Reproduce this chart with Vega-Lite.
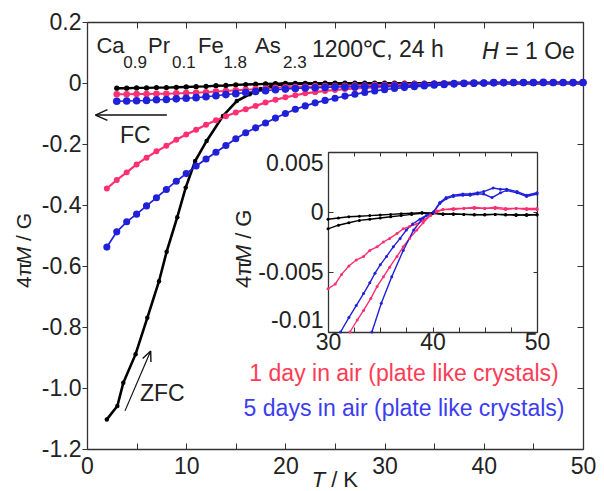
{
  "$schema": "https://vega.github.io/schema/vega-lite/v6.json",
  "width": 496,
  "height": 427,
  "autosize": {"type": "none"},
  "padding": {"left": 87, "top": 22, "right": 21, "bottom": 42},
  "config": {
    "font": "Liberation Sans",
    "view": {"stroke": null},
    "axis": {
      "grid": false,
      "labelFlush": false,
      "domainColor": "#333",
      "domainWidth": 1.3,
      "tickColor": "#333",
      "tickWidth": 1,
      "labelFont": "Liberation Sans",
      "labelFontSize": 23,
      "labelColor": "#222",
      "title": null
    }
  },
  "datasets": {
    "main": [
      {"s":"bZ","T":2,"M":-1.103},{"s":"bZ","T":3.06,"M":-1.059},{"s":"bZ","T":3.66,"M":-0.983},{"s":"bZ","T":4.9,"M":-0.889},{"s":"bZ","T":6.08,"M":-0.77},{"s":"bZ","T":7.26,"M":-0.65},{"s":"bZ","T":8.03,"M":-0.553},{"s":"bZ","T":9.1,"M":-0.44},{"s":"bZ","T":9.95,"M":-0.343},{"s":"bZ","T":10.9,"M":-0.256},{"s":"bZ","T":12.06,"M":-0.19},{"s":"bZ","T":13.7,"M":-0.108},{"s":"bZ","T":15.1,"M":-0.059},{"s":"bZ","T":16.4,"M":-0.037},{"s":"bZ","T":17.5,"M":-0.02},{"s":"bZ","T":18.6,"M":-0.01},{"s":"bZ","T":19.7,"M":-0.005},{"s":"bZ","T":21,"M":-0.003},{"s":"bZ","T":23,"M":-0.0023},{"s":"bZ","T":25,"M":-0.0019},{"s":"bZ","T":27,"M":-0.0017},{"s":"bZ","T":29,"M":-0.0015},{"s":"bZ","T":31,"M":-0.0011},{"s":"bZ","T":33,"M":-0.0008},{"s":"bZ","T":35,"M":-0.0006},{"s":"bZ","T":37,"M":-0.0004},{"s":"bZ","T":39,"M":-0.0002},{"s":"bZ","T":41,"M":-0.0003},{"s":"bZ","T":43,"M":-0.0003},{"s":"bZ","T":45,"M":-0.0003},{"s":"bZ","T":47,"M":-0.0003},{"s":"bZ","T":49,"M":-0.0003},{"s":"bZ","T":50,"M":-0.0003},

      {"s":"bF","T":3,"M":-0.017},{"s":"bF","T":4,"M":-0.017},{"s":"bF","T":5,"M":-0.016},{"s":"bF","T":6,"M":-0.016},{"s":"bF","T":7,"M":-0.015},{"s":"bF","T":8,"M":-0.015},{"s":"bF","T":9,"M":-0.014},{"s":"bF","T":10,"M":-0.013},{"s":"bF","T":11,"M":-0.012},{"s":"bF","T":12,"M":-0.011},{"s":"bF","T":13,"M":-0.009},{"s":"bF","T":14,"M":-0.008},{"s":"bF","T":15,"M":-0.006},{"s":"bF","T":16,"M":-0.005},{"s":"bF","T":17,"M":-0.004},{"s":"bF","T":18,"M":-0.003},{"s":"bF","T":19,"M":-0.002},{"s":"bF","T":20,"M":-0.0015},{"s":"bF","T":21,"M":-0.0012},{"s":"bF","T":22,"M":-0.001},{"s":"bF","T":23,"M":-0.0009},{"s":"bF","T":24,"M":-0.0008},{"s":"bF","T":25,"M":-0.0008},{"s":"bF","T":26,"M":-0.0007},{"s":"bF","T":27,"M":-0.0007},{"s":"bF","T":28,"M":-0.0006},{"s":"bF","T":29,"M":-0.0006},{"s":"bF","T":30,"M":-0.0006},{"s":"bF","T":31,"M":-0.0005},{"s":"bF","T":32,"M":-0.0004},{"s":"bF","T":33,"M":-0.0004},{"s":"bF","T":34,"M":-0.0003},{"s":"bF","T":35,"M":-0.0003},{"s":"bF","T":36,"M":-0.0002},{"s":"bF","T":37,"M":-0.0002},{"s":"bF","T":38,"M":-0.0001},{"s":"bF","T":39,"M":-0.0001},{"s":"bF","T":40,"M":-0.0001},{"s":"bF","T":41,"M":-0.0002},{"s":"bF","T":42,"M":-0.0002},{"s":"bF","T":43,"M":-0.0002},{"s":"bF","T":44,"M":-0.0002},{"s":"bF","T":45,"M":-0.0002},{"s":"bF","T":46,"M":-0.0002},{"s":"bF","T":47,"M":-0.0002},{"s":"bF","T":48,"M":-0.0002},{"s":"bF","T":49,"M":-0.0002},{"s":"bF","T":50,"M":-0.0002},

      {"s":"rZ","T":2,"M":-0.346},{"s":"rZ","T":3,"M":-0.318},{"s":"rZ","T":4,"M":-0.293},{"s":"rZ","T":5,"M":-0.267},{"s":"rZ","T":6,"M":-0.245},{"s":"rZ","T":7,"M":-0.224},{"s":"rZ","T":8,"M":-0.206},{"s":"rZ","T":9,"M":-0.186},{"s":"rZ","T":10,"M":-0.169},{"s":"rZ","T":11,"M":-0.153},{"s":"rZ","T":12,"M":-0.137},{"s":"rZ","T":13,"M":-0.122},{"s":"rZ","T":14,"M":-0.109},{"s":"rZ","T":15,"M":-0.097},{"s":"rZ","T":16,"M":-0.086},{"s":"rZ","T":17,"M":-0.075},{"s":"rZ","T":18,"M":-0.064},{"s":"rZ","T":19,"M":-0.055},{"s":"rZ","T":20,"M":-0.047},{"s":"rZ","T":21,"M":-0.04},{"s":"rZ","T":22,"M":-0.034},{"s":"rZ","T":23,"M":-0.03},{"s":"rZ","T":24,"M":-0.026},{"s":"rZ","T":25,"M":-0.023},{"s":"rZ","T":26,"M":-0.02},{"s":"rZ","T":27,"M":-0.018},{"s":"rZ","T":28,"M":-0.016},{"s":"rZ","T":29,"M":-0.0145},{"s":"rZ","T":30,"M":-0.013},{"s":"rZ","T":31,"M":-0.0115},{"s":"rZ","T":32,"M":-0.0101},{"s":"rZ","T":33,"M":-0.0086},{"s":"rZ","T":34,"M":-0.0068},{"s":"rZ","T":35,"M":-0.0054},{"s":"rZ","T":36,"M":-0.0042},{"s":"rZ","T":37,"M":-0.0031},{"s":"rZ","T":38,"M":-0.0018},{"s":"rZ","T":39,"M":-0.0008},{"s":"rZ","T":40,"M":-0.0001},{"s":"rZ","T":41,"M":0.0002},{"s":"rZ","T":42,"M":0.0002},{"s":"rZ","T":43,"M":0.0003},{"s":"rZ","T":44,"M":0.0003},{"s":"rZ","T":45,"M":0.0003},{"s":"rZ","T":46,"M":0.0003},{"s":"rZ","T":47,"M":0.0003},{"s":"rZ","T":48,"M":0.0003},{"s":"rZ","T":49,"M":0.0003},{"s":"rZ","T":50,"M":0.0003},

      {"s":"rF","T":3,"M":-0.037},{"s":"rF","T":4,"M":-0.037},{"s":"rF","T":5,"M":-0.036},{"s":"rF","T":6,"M":-0.036},{"s":"rF","T":7,"M":-0.035},{"s":"rF","T":8,"M":-0.035},{"s":"rF","T":9,"M":-0.034},{"s":"rF","T":10,"M":-0.033},{"s":"rF","T":11,"M":-0.032},{"s":"rF","T":12,"M":-0.03},{"s":"rF","T":13,"M":-0.028},{"s":"rF","T":14,"M":-0.026},{"s":"rF","T":15,"M":-0.024},{"s":"rF","T":16,"M":-0.022},{"s":"rF","T":17,"M":-0.02},{"s":"rF","T":18,"M":-0.018},{"s":"rF","T":19,"M":-0.016},{"s":"rF","T":20,"M":-0.014},{"s":"rF","T":21,"M":-0.013},{"s":"rF","T":22,"M":-0.012},{"s":"rF","T":23,"M":-0.011},{"s":"rF","T":24,"M":-0.01},{"s":"rF","T":25,"M":-0.0095},{"s":"rF","T":26,"M":-0.009},{"s":"rF","T":27,"M":-0.0085},{"s":"rF","T":28,"M":-0.008},{"s":"rF","T":29,"M":-0.007},{"s":"rF","T":30,"M":-0.0063},{"s":"rF","T":31,"M":-0.0057},{"s":"rF","T":32,"M":-0.0046},{"s":"rF","T":33,"M":-0.0039},{"s":"rF","T":34,"M":-0.0033},{"s":"rF","T":35,"M":-0.0026},{"s":"rF","T":36,"M":-0.0021},{"s":"rF","T":37,"M":-0.0014},{"s":"rF","T":38,"M":-0.0011},{"s":"rF","T":39,"M":-0.0007},{"s":"rF","T":40,"M":-0.0002},{"s":"rF","T":41,"M":0.0001},{"s":"rF","T":42,"M":0.0002},{"s":"rF","T":43,"M":0.0002},{"s":"rF","T":44,"M":0.0003},{"s":"rF","T":45,"M":0.0003},{"s":"rF","T":46,"M":0.0003},{"s":"rF","T":47,"M":0.0002},{"s":"rF","T":48,"M":0.0003},{"s":"rF","T":49,"M":0.0002},{"s":"rF","T":50,"M":0.0002},

      {"s":"uZ","T":2,"M":-0.538},{"s":"uZ","T":3,"M":-0.488},{"s":"uZ","T":4,"M":-0.455},{"s":"uZ","T":5,"M":-0.43},{"s":"uZ","T":6,"M":-0.403},{"s":"uZ","T":7,"M":-0.376},{"s":"uZ","T":8,"M":-0.349},{"s":"uZ","T":9,"M":-0.322},{"s":"uZ","T":10,"M":-0.297},{"s":"uZ","T":11,"M":-0.272},{"s":"uZ","T":12,"M":-0.249},{"s":"uZ","T":13,"M":-0.227},{"s":"uZ","T":14,"M":-0.205},{"s":"uZ","T":15,"M":-0.183},{"s":"uZ","T":16,"M":-0.163},{"s":"uZ","T":17,"M":-0.147},{"s":"uZ","T":18,"M":-0.131},{"s":"uZ","T":19,"M":-0.115},{"s":"uZ","T":20,"M":-0.1},{"s":"uZ","T":21,"M":-0.086},{"s":"uZ","T":22,"M":-0.075},{"s":"uZ","T":23,"M":-0.065},{"s":"uZ","T":24,"M":-0.057},{"s":"uZ","T":25,"M":-0.05},{"s":"uZ","T":26,"M":-0.043},{"s":"uZ","T":27,"M":-0.037},{"s":"uZ","T":28,"M":-0.031},{"s":"uZ","T":29,"M":-0.026},{"s":"uZ","T":30,"M":-0.022},{"s":"uZ","T":31,"M":-0.018},{"s":"uZ","T":32,"M":-0.015},{"s":"uZ","T":33,"M":-0.012},{"s":"uZ","T":34,"M":-0.01},{"s":"uZ","T":35,"M":-0.0076},{"s":"uZ","T":36,"M":-0.0054},{"s":"uZ","T":37,"M":-0.0036},{"s":"uZ","T":38,"M":-0.0018},{"s":"uZ","T":39,"M":-0.0006},{"s":"uZ","T":40,"M":0},{"s":"uZ","T":41,"M":0.0011},{"s":"uZ","T":42,"M":0.0013},{"s":"uZ","T":43,"M":0.0014},{"s":"uZ","T":44,"M":0.0015},{"s":"uZ","T":45,"M":0.0013},{"s":"uZ","T":46,"M":0.0016},{"s":"uZ","T":47,"M":0.0018},{"s":"uZ","T":48,"M":0.0016},{"s":"uZ","T":49,"M":0.0013},{"s":"uZ","T":50,"M":0.0015},

      {"s":"uF","T":3,"M":-0.06},{"s":"uF","T":4,"M":-0.059},{"s":"uF","T":5,"M":-0.058},{"s":"uF","T":6,"M":-0.057},{"s":"uF","T":7,"M":-0.055},{"s":"uF","T":8,"M":-0.054},{"s":"uF","T":9,"M":-0.052},{"s":"uF","T":10,"M":-0.05},{"s":"uF","T":11,"M":-0.048},{"s":"uF","T":12,"M":-0.045},{"s":"uF","T":13,"M":-0.042},{"s":"uF","T":14,"M":-0.038},{"s":"uF","T":15,"M":-0.035},{"s":"uF","T":16,"M":-0.031},{"s":"uF","T":17,"M":-0.028},{"s":"uF","T":18,"M":-0.025},{"s":"uF","T":19,"M":-0.022},{"s":"uF","T":20,"M":-0.02},{"s":"uF","T":21,"M":-0.018},{"s":"uF","T":22,"M":-0.0165},{"s":"uF","T":23,"M":-0.0155},{"s":"uF","T":24,"M":-0.0145},{"s":"uF","T":25,"M":-0.0135},{"s":"uF","T":26,"M":-0.013},{"s":"uF","T":27,"M":-0.0125},{"s":"uF","T":28,"M":-0.012},{"s":"uF","T":29,"M":-0.0115},{"s":"uF","T":30,"M":-0.011},{"s":"uF","T":31,"M":-0.0102},{"s":"uF","T":32,"M":-0.0088},{"s":"uF","T":33,"M":-0.0073},{"s":"uF","T":34,"M":-0.0059},{"s":"uF","T":35,"M":-0.0045},{"s":"uF","T":36,"M":-0.0032},{"s":"uF","T":37,"M":-0.002},{"s":"uF","T":38,"M":-0.0011},{"s":"uF","T":39,"M":-0.0005},{"s":"uF","T":40,"M":0},{"s":"uF","T":41,"M":0.0012},{"s":"uF","T":42,"M":0.0014},{"s":"uF","T":43,"M":0.0015},{"s":"uF","T":44,"M":0.0016},{"s":"uF","T":45,"M":0.0018},{"s":"uF","T":46,"M":0.002},{"s":"uF","T":47,"M":0.0018},{"s":"uF","T":48,"M":0.0017},{"s":"uF","T":49,"M":0.0014},{"s":"uF","T":50,"M":0.0015}
    ],
    "inset": [
      {"s":"bF","T":30,"M":-0.0006},{"s":"bF","T":31,"M":-0.0005},{"s":"bF","T":32,"M":-0.0004},{"s":"bF","T":33,"M":-0.00035},{"s":"bF","T":34,"M":-0.0003},{"s":"bF","T":35,"M":-0.00025},{"s":"bF","T":36,"M":-0.0002},{"s":"bF","T":37,"M":-0.00015},{"s":"bF","T":38,"M":-0.0001},{"s":"bF","T":39,"M":-0.00005},{"s":"bF","T":40,"M":-0.0001},{"s":"bF","T":41,"M":-0.0002},{"s":"bF","T":42,"M":-0.00015},{"s":"bF","T":43,"M":-0.0002},{"s":"bF","T":44,"M":-0.00025},{"s":"bF","T":45,"M":-0.0002},{"s":"bF","T":46,"M":-0.0002},{"s":"bF","T":47,"M":-0.00025},{"s":"bF","T":48,"M":-0.0002},{"s":"bF","T":49,"M":-0.0003},{"s":"bF","T":50,"M":-0.0002},
      {"s":"bZ","T":30,"M":-0.0014},{"s":"bZ","T":31,"M":-0.0011},{"s":"bZ","T":32,"M":-0.0009},{"s":"bZ","T":33,"M":-0.0007},{"s":"bZ","T":34,"M":-0.0006},{"s":"bZ","T":35,"M":-0.0005},{"s":"bZ","T":36,"M":-0.0004},{"s":"bZ","T":37,"M":-0.0003},{"s":"bZ","T":38,"M":-0.0002},{"s":"bZ","T":39,"M":-0.0001},{"s":"bZ","T":40,"M":-0.0001},{"s":"bZ","T":41,"M":-0.00015},{"s":"bZ","T":42,"M":-0.0002},{"s":"bZ","T":43,"M":-0.0002},{"s":"bZ","T":44,"M":-0.0002},{"s":"bZ","T":45,"M":-0.00025},{"s":"bZ","T":46,"M":-0.0002},{"s":"bZ","T":47,"M":-0.0002},{"s":"bZ","T":48,"M":-0.0003},{"s":"bZ","T":49,"M":-0.0002},{"s":"bZ","T":50,"M":-0.00025},
      {"s":"rF","T":30,"M":-0.0064},{"s":"rF","T":30.7,"M":-0.006},{"s":"rF","T":31.3,"M":-0.0052},{"s":"rF","T":32,"M":-0.0045},{"s":"rF","T":32.7,"M":-0.004},{"s":"rF","T":33.4,"M":-0.0037},{"s":"rF","T":34,"M":-0.0032},{"s":"rF","T":34.7,"M":-0.0029},{"s":"rF","T":35.3,"M":-0.0025},{"s":"rF","T":35.9,"M":-0.0022},{"s":"rF","T":36.6,"M":-0.0018},{"s":"rF","T":37.2,"M":-0.0014},{"s":"rF","T":37.8,"M":-0.0012},{"s":"rF","T":38.5,"M":-0.001},{"s":"rF","T":39.1,"M":-0.0007},{"s":"rF","T":39.8,"M":-0.0003},{"s":"rF","T":40.4,"M":0},{"s":"rF","T":41,"M":0.0002},{"s":"rF","T":42,"M":0.0002},{"s":"rF","T":43,"M":0.0003},{"s":"rF","T":44,"M":0.0003},{"s":"rF","T":45,"M":0.0003},{"s":"rF","T":46,"M":0.0003},{"s":"rF","T":47,"M":0.0002},{"s":"rF","T":48,"M":0.0003},{"s":"rF","T":49,"M":0.0002},{"s":"rF","T":50,"M":0.0002},
      {"s":"rZ","T":32.1,"M":-0.01},{"s":"rZ","T":32.8,"M":-0.009},{"s":"rZ","T":33.4,"M":-0.0082},{"s":"rZ","T":34.1,"M":-0.0072},{"s":"rZ","T":34.7,"M":-0.0062},{"s":"rZ","T":35.3,"M":-0.0054},{"s":"rZ","T":35.9,"M":-0.0046},{"s":"rZ","T":36.6,"M":-0.0037},{"s":"rZ","T":37.2,"M":-0.0029},{"s":"rZ","T":37.8,"M":-0.0022},{"s":"rZ","T":38.5,"M":-0.0015},{"s":"rZ","T":39.1,"M":-0.0009},{"s":"rZ","T":39.8,"M":-0.0003},{"s":"rZ","T":40.4,"M":0.0001},{"s":"rZ","T":41,"M":0.0002},{"s":"rZ","T":42,"M":0.0003},{"s":"rZ","T":43,"M":0.0003},{"s":"rZ","T":44,"M":0.0004},{"s":"rZ","T":45,"M":0.0003},{"s":"rZ","T":46,"M":0.0004},{"s":"rZ","T":47,"M":0.0003},{"s":"rZ","T":48,"M":0.0003},{"s":"rZ","T":49,"M":0.0003},{"s":"rZ","T":50,"M":0.0003},
      {"s":"uF","T":31.2,"M":-0.01},{"s":"uF","T":32,"M":-0.0088},{"s":"uF","T":32.7,"M":-0.0078},{"s":"uF","T":33.4,"M":-0.0068},{"s":"uF","T":34,"M":-0.0059},{"s":"uF","T":34.5,"M":-0.0051},{"s":"uF","T":35,"M":-0.0044},{"s":"uF","T":35.6,"M":-0.0037},{"s":"uF","T":36.25,"M":-0.0029},{"s":"uF","T":36.9,"M":-0.0022},{"s":"uF","T":37.5,"M":-0.0015},{"s":"uF","T":38.1,"M":-0.001},{"s":"uF","T":38.8,"M":-0.0006},{"s":"uF","T":39.4,"M":-0.0003},{"s":"uF","T":40.1,"M":0},{"s":"uF","T":40.7,"M":0.0008},{"s":"uF","T":41.3,"M":0.0012},{"s":"uF","T":42,"M":0.0014},{"s":"uF","T":42.9,"M":0.0015},{"s":"uF","T":43.6,"M":0.0015},{"s":"uF","T":44.3,"M":0.0016},{"s":"uF","T":44.9,"M":0.0017},{"s":"uF","T":45.8,"M":0.002},{"s":"uF","T":46.5,"M":0.0019},{"s":"uF","T":47.1,"M":0.0019},{"s":"uF","T":48.1,"M":0.0017},{"s":"uF","T":49,"M":0.0014},{"s":"uF","T":50,"M":0.0016},
      {"s":"uZ","T":34.2,"M":-0.01},{"s":"uZ","T":35.1,"M":-0.0076},{"s":"uZ","T":36.1,"M":-0.0054},{"s":"uZ","T":37.2,"M":-0.0032},{"s":"uZ","T":38.2,"M":-0.0015},{"s":"uZ","T":39.1,"M":-0.0005},{"s":"uZ","T":40.1,"M":0},{"s":"uZ","T":40.7,"M":0.0007},{"s":"uZ","T":41.3,"M":0.0011},{"s":"uZ","T":42,"M":0.0013},{"s":"uZ","T":42.9,"M":0.0014},{"s":"uZ","T":43.6,"M":0.0014},{"s":"uZ","T":44.3,"M":0.0015},{"s":"uZ","T":44.9,"M":0.0015},{"s":"uZ","T":45.7,"M":0.0012},{"s":"uZ","T":46.5,"M":0.0016},{"s":"uZ","T":47.1,"M":0.0018},{"s":"uZ","T":48.1,"M":0.0016},{"s":"uZ","T":49,"M":0.0013},{"s":"uZ","T":50,"M":0.0015}
    ]
  },
  "layer": [
    {
      "data": {"name": "main"},
      "mark": {"type": "line"},
      "encoding": {
        "x": {"field": "T", "type": "quantitative", "scale": {"domain": [0, 50], "nice": false, "zero": false},
          "axis": {"orient": "bottom", "values": [0, 5, 10, 15, 20, 25, 30, 35, 40, 45, 50], "labelExpr": "datum.value % 10 === 0 ? toString(datum.value) : ''", "tickSize": -6, "labelPadding": 12}},
        "y": {"field": "M", "type": "quantitative", "scale": {"domain": [-1.2, 0.2], "nice": false, "zero": false},
          "axis": {"orient": "left", "values": [0.2, 0, -0.2, -0.4, -0.6, -0.8, -1, -1.2], "labelExpr": "datum.value === 0 ? '0' : replace(format(datum.value, '.1f'), '\u2212', '-')", "tickSize": 5, "labelPadding": 1}},
        "color": {"field": "s", "type": "nominal", "legend": null,
          "scale": {"domain": ["bZ", "bF", "rZ", "rF", "uZ", "uF"], "range": ["#000000", "#000000", "#ff2f72", "#ff2f72", "#2020d8", "#2020d8"]}},
        "strokeWidth": {"field": "s", "type": "nominal", "legend": null,
          "scale": {"domain": ["bZ", "bF", "rZ", "rF", "uZ", "uF"], "range": [2.6, 1.5, 1.5, 1.5, 1.5, 1.5]}}
      }
    },
    {
      "data": {"name": "main"},
      "mark": {"type": "point", "filled": true, "opacity": 1},
      "encoding": {
        "x": {"field": "T", "type": "quantitative", "scale": {"domain": [0, 50], "nice": false, "zero": false},
          "axis": {"orient": "top", "values": [0, 5, 10, 15, 20, 25, 30, 35, 40, 45, 50], "labels": false, "tickSize": -6}},
        "y": {"field": "M", "type": "quantitative", "scale": {"domain": [-1.2, 0.2], "nice": false, "zero": false},
          "axis": {"orient": "right", "values": [0.2, 0, -0.2, -0.4, -0.6, -0.8, -1, -1.2], "labels": false, "tickSize": -6}},
        "color": {"field": "s", "type": "nominal", "legend": null,
          "scale": {"domain": ["bZ", "bF", "rZ", "rF", "uZ", "uF"], "range": ["#000000", "#000000", "#ff2f72", "#ff2f72", "#2020d8", "#2020d8"]}},
        "size": {"field": "s", "type": "nominal", "legend": null,
          "scale": {"domain": ["bZ", "bF", "rZ", "rF", "uZ", "uF"], "range": [20, 58, 58, 58, 58, 58]}}
      }
    },
    {
      "data": {"name": "inset"},
      "mark": {"type": "line", "strokeWidth": 1.4},
      "encoding": {
        "x": {"field": "T", "type": "quantitative", "scale": {"domain": [30, 50], "range": [241, 450], "nice": false, "zero": false},
          "axis": {"orient": "bottom", "offset": -117, "values": [30, 32.5, 35, 37.5, 40, 42.5, 45, 47.5, 50], "labelExpr": "datum.value % 10 === 0 ? toString(datum.value) : ''", "tickSize": -5, "labelPadding": 4}},
        "y": {"field": "M", "type": "quantitative", "scale": {"domain": [-0.01, 0.005], "range": [310, 130], "nice": false, "zero": false},
          "axis": {"orient": "left", "offset": -241, "values": [0.005, 0, -0.005, -0.01], "labelExpr": "toString(datum.value)", "labelFlush": true, "tickSize": -5, "labelPadding": 10}},
        "color": {"field": "s", "type": "nominal", "legend": null,
          "scale": {"domain": ["bZ", "bF", "rZ", "rF", "uZ", "uF"], "range": ["#000000", "#000000", "#ff2f72", "#ff2f72", "#2020d8", "#2020d8"]}}
      }
    },
    {
      "data": {"name": "inset"},
      "mark": {"type": "point", "filled": true, "opacity": 1, "size": 9},
      "encoding": {
        "x": {"field": "T", "type": "quantitative", "scale": {"domain": [30, 50], "range": [241, 450], "nice": false, "zero": false},
          "axis": {"orient": "top", "offset": -130, "values": [30, 32.5, 35, 37.5, 40, 42.5, 45, 47.5, 50], "labels": false, "tickSize": -4}},
        "y": {"field": "M", "type": "quantitative", "scale": {"domain": [-0.01, 0.005], "range": [310, 130], "nice": false, "zero": false},
          "axis": {"orient": "right", "offset": -46, "values": [0.005, 0, -0.005, -0.01], "labels": false, "tickSize": -4}},
        "color": {"field": "s", "type": "nominal", "legend": null,
          "scale": {"domain": ["bZ", "bF", "rZ", "rF", "uZ", "uF"], "range": ["#000000", "#000000", "#ff2f72", "#ff2f72", "#2020d8", "#2020d8"]}}
      }
    },
    {
      "data": {"values": [{}]},
      "mark": {"type": "rule", "stroke": "#111", "strokeWidth": 1.4},
      "encoding": {
        "x": {"datum": 0.85, "type": "quantitative", "scale": {"domain": [0, 50], "nice": false, "zero": false}, "axis": null},
        "x2": {"datum": 8.05},
        "y": {"datum": -0.105, "type": "quantitative", "scale": {"domain": [-1.2, 0.2], "nice": false, "zero": false}, "axis": null}
      }
    },
    {
      "data": {"values": [{}]},
      "mark": {"type": "point", "shape": "M0,0L2,-0.9M0,0L2,0.9", "filled": false, "stroke": "#111", "strokeWidth": 1.4, "size": 144, "opacity": 1},
      "encoding": {
        "x": {"datum": 0.85, "type": "quantitative", "scale": {"domain": [0, 50], "nice": false, "zero": false}, "axis": null},
        "y": {"datum": -0.105, "type": "quantitative", "scale": {"domain": [-1.2, 0.2], "nice": false, "zero": false}, "axis": null}
      }
    },
    {
      "data": {"values": [{}]},
      "mark": {"type": "rule", "stroke": "#111", "strokeWidth": 1.2},
      "encoding": {
        "x": {"datum": 3.83, "type": "quantitative", "scale": {"domain": [0, 50], "nice": false, "zero": false}, "axis": null},
        "x2": {"datum": 6.42},
        "y": {"datum": -1.075, "type": "quantitative", "scale": {"domain": [-1.2, 0.2], "nice": false, "zero": false}, "axis": null},
        "y2": {"datum": -0.879}
      }
    },
    {
      "data": {"values": [{}]},
      "mark": {"type": "point", "shape": "M0,0L2,-0.9M0,0L2,0.9", "filled": false, "stroke": "#111", "strokeWidth": 1.4, "size": 100, "angle": 113, "opacity": 1},
      "encoding": {
        "x": {"datum": 6.42, "type": "quantitative", "scale": {"domain": [0, 50], "nice": false, "zero": false}, "axis": null},
        "y": {"datum": -0.879, "type": "quantitative", "scale": {"domain": [-1.2, 0.2], "nice": false, "zero": false}, "axis": null}
      }
    },
    {"data": {"values": [{}]}, "mark": {"type": "text", "align": "left", "baseline": "alphabetic", "fontSize": 22, "color": "#222", "text": "Ca"},
      "encoding": {"x": {"datum": 0.95, "type": "quantitative", "scale": {"domain": [0, 50], "nice": false, "zero": false}, "axis": null}, "y": {"datum": 0.098, "type": "quantitative", "scale": {"domain": [-1.2, 0.2], "nice": false, "zero": false}, "axis": null}}},
    {"data": {"values": [{}]}, "mark": {"type": "text", "align": "left", "baseline": "alphabetic", "fontSize": 17, "color": "#222", "text": "0.9"},
      "encoding": {"x": {"datum": 3.65, "type": "quantitative", "scale": {"domain": [0, 50], "nice": false, "zero": false}, "axis": null}, "y": {"datum": 0.049, "type": "quantitative", "scale": {"domain": [-1.2, 0.2], "nice": false, "zero": false}, "axis": null}}},
    {"data": {"values": [{}]}, "mark": {"type": "text", "align": "left", "baseline": "alphabetic", "fontSize": 22, "color": "#222", "text": "Pr"},
      "encoding": {"x": {"datum": 6.15, "type": "quantitative", "scale": {"domain": [0, 50], "nice": false, "zero": false}, "axis": null}, "y": {"datum": 0.098, "type": "quantitative", "scale": {"domain": [-1.2, 0.2], "nice": false, "zero": false}, "axis": null}}},
    {"data": {"values": [{}]}, "mark": {"type": "text", "align": "left", "baseline": "alphabetic", "fontSize": 17, "color": "#222", "text": "0.1"},
      "encoding": {"x": {"datum": 8.57, "type": "quantitative", "scale": {"domain": [0, 50], "nice": false, "zero": false}, "axis": null}, "y": {"datum": 0.049, "type": "quantitative", "scale": {"domain": [-1.2, 0.2], "nice": false, "zero": false}, "axis": null}}},
    {"data": {"values": [{}]}, "mark": {"type": "text", "align": "left", "baseline": "alphabetic", "fontSize": 22, "color": "#222", "text": "Fe"},
      "encoding": {"x": {"datum": 11.19, "type": "quantitative", "scale": {"domain": [0, 50], "nice": false, "zero": false}, "axis": null}, "y": {"datum": 0.098, "type": "quantitative", "scale": {"domain": [-1.2, 0.2], "nice": false, "zero": false}, "axis": null}}},
    {"data": {"values": [{}]}, "mark": {"type": "text", "align": "left", "baseline": "alphabetic", "fontSize": 17, "color": "#222", "text": "1.8"},
      "encoding": {"x": {"datum": 13.75, "type": "quantitative", "scale": {"domain": [0, 50], "nice": false, "zero": false}, "axis": null}, "y": {"datum": 0.049, "type": "quantitative", "scale": {"domain": [-1.2, 0.2], "nice": false, "zero": false}, "axis": null}}},
    {"data": {"values": [{}]}, "mark": {"type": "text", "align": "left", "baseline": "alphabetic", "fontSize": 22, "color": "#222", "text": "As"},
      "encoding": {"x": {"datum": 16.94, "type": "quantitative", "scale": {"domain": [0, 50], "nice": false, "zero": false}, "axis": null}, "y": {"datum": 0.098, "type": "quantitative", "scale": {"domain": [-1.2, 0.2], "nice": false, "zero": false}, "axis": null}}},
    {"data": {"values": [{}]}, "mark": {"type": "text", "align": "left", "baseline": "alphabetic", "fontSize": 17, "color": "#222", "text": "2.3"},
      "encoding": {"x": {"datum": 19.76, "type": "quantitative", "scale": {"domain": [0, 50], "nice": false, "zero": false}, "axis": null}, "y": {"datum": 0.049, "type": "quantitative", "scale": {"domain": [-1.2, 0.2], "nice": false, "zero": false}, "axis": null}}},
    {"data": {"values": [{}]}, "mark": {"type": "text", "align": "left", "baseline": "alphabetic", "fontSize": 23, "color": "#222", "text": "1200℃, 24 h"},
      "encoding": {"x": {"datum": 22.68, "type": "quantitative", "scale": {"domain": [0, 50], "nice": false, "zero": false}, "axis": null}, "y": {"datum": 0.085, "type": "quantitative", "scale": {"domain": [-1.2, 0.2], "nice": false, "zero": false}, "axis": null}}},
    {"data": {"values": [{}]}, "mark": {"type": "text", "align": "left", "baseline": "alphabetic", "fontSize": 23, "fontStyle": "italic", "color": "#222", "text": "H"},
      "encoding": {"x": {"datum": 39.82, "type": "quantitative", "scale": {"domain": [0, 50], "nice": false, "zero": false}, "axis": null}, "y": {"datum": 0.08, "type": "quantitative", "scale": {"domain": [-1.2, 0.2], "nice": false, "zero": false}, "axis": null}}},
    {"data": {"values": [{}]}, "mark": {"type": "text", "align": "left", "baseline": "alphabetic", "fontSize": 23, "color": "#222", "text": "= 1 Oe"},
      "encoding": {"x": {"datum": 42.15, "type": "quantitative", "scale": {"domain": [0, 50], "nice": false, "zero": false}, "axis": null}, "y": {"datum": 0.08, "type": "quantitative", "scale": {"domain": [-1.2, 0.2], "nice": false, "zero": false}, "axis": null}}},
    {"data": {"values": [{}]}, "mark": {"type": "text", "align": "left", "baseline": "alphabetic", "fontSize": 23, "color": "#222", "text": "FC"},
      "encoding": {"x": {"datum": 3.33, "type": "quantitative", "scale": {"domain": [0, 50], "nice": false, "zero": false}, "axis": null}, "y": {"datum": -0.196, "type": "quantitative", "scale": {"domain": [-1.2, 0.2], "nice": false, "zero": false}, "axis": null}}},
    {"data": {"values": [{}]}, "mark": {"type": "text", "align": "left", "baseline": "alphabetic", "fontSize": 23, "color": "#222", "text": "ZFC"},
      "encoding": {"x": {"datum": 5.34, "type": "quantitative", "scale": {"domain": [0, 50], "nice": false, "zero": false}, "axis": null}, "y": {"datum": -1.043, "type": "quantitative", "scale": {"domain": [-1.2, 0.2], "nice": false, "zero": false}, "axis": null}}},
    {"data": {"values": [{}]}, "mark": {"type": "text", "align": "center", "baseline": "alphabetic", "fontSize": 23, "color": "#ff3b55", "text": "1 day in air (plate like crystals)"},
      "encoding": {"x": {"datum": 31.96, "type": "quantitative", "scale": {"domain": [0, 50], "nice": false, "zero": false}, "axis": null}, "y": {"datum": -0.977, "type": "quantitative", "scale": {"domain": [-1.2, 0.2], "nice": false, "zero": false}, "axis": null}}},
    {"data": {"values": [{}]}, "mark": {"type": "text", "align": "center", "baseline": "alphabetic", "fontSize": 23, "color": "#3c3cf0", "text": "5 days in air (plate like crystals)"},
      "encoding": {"x": {"datum": 31.96, "type": "quantitative", "scale": {"domain": [0, 50], "nice": false, "zero": false}, "axis": null}, "y": {"datum": -1.092, "type": "quantitative", "scale": {"domain": [-1.2, 0.2], "nice": false, "zero": false}, "axis": null}}},
    {"data": {"values": [{}]}, "mark": {"type": "text", "align": "left", "baseline": "middle", "angle": 270, "fontSize": 21, "color": "#222", "text": "4π"},
      "encoding": {"x": {"datum": -6.25, "type": "quantitative", "scale": {"domain": [0, 50], "nice": false, "zero": false}, "axis": null}, "y": {"datum": -0.672, "type": "quantitative", "scale": {"domain": [-1.2, 0.2], "nice": false, "zero": false}, "axis": null}}},
    {"data": {"values": [{}]}, "mark": {"type": "text", "align": "left", "baseline": "middle", "angle": 270, "fontSize": 21, "fontStyle": "italic", "color": "#222", "text": "M"},
      "encoding": {"x": {"datum": -6.25, "type": "quantitative", "scale": {"domain": [0, 50], "nice": false, "zero": false}, "axis": null}, "y": {"datum": -0.594, "type": "quantitative", "scale": {"domain": [-1.2, 0.2], "nice": false, "zero": false}, "axis": null}}},
    {"data": {"values": [{}]}, "mark": {"type": "text", "align": "left", "baseline": "middle", "angle": 270, "fontSize": 21, "color": "#222", "text": "/ G"},
      "encoding": {"x": {"datum": -6.25, "type": "quantitative", "scale": {"domain": [0, 50], "nice": false, "zero": false}, "axis": null}, "y": {"datum": -0.518, "type": "quantitative", "scale": {"domain": [-1.2, 0.2], "nice": false, "zero": false}, "axis": null}}},
    {"data": {"values": [{}]}, "mark": {"type": "text", "align": "left", "baseline": "middle", "angle": 270, "fontSize": 22, "color": "#222", "text": "4π"},
      "encoding": {"x": {"datum": 15.78, "type": "quantitative", "scale": {"domain": [0, 50], "nice": false, "zero": false}, "axis": null}, "y": {"datum": -0.672, "type": "quantitative", "scale": {"domain": [-1.2, 0.2], "nice": false, "zero": false}, "axis": null}}},
    {"data": {"values": [{}]}, "mark": {"type": "text", "align": "left", "baseline": "middle", "angle": 270, "fontSize": 22, "fontStyle": "italic", "color": "#222", "text": "M"},
      "encoding": {"x": {"datum": 15.78, "type": "quantitative", "scale": {"domain": [0, 50], "nice": false, "zero": false}, "axis": null}, "y": {"datum": -0.591, "type": "quantitative", "scale": {"domain": [-1.2, 0.2], "nice": false, "zero": false}, "axis": null}}},
    {"data": {"values": [{}]}, "mark": {"type": "text", "align": "left", "baseline": "middle", "angle": 270, "fontSize": 22, "color": "#222", "text": "/ G"},
      "encoding": {"x": {"datum": 15.78, "type": "quantitative", "scale": {"domain": [0, 50], "nice": false, "zero": false}, "axis": null}, "y": {"datum": -0.511, "type": "quantitative", "scale": {"domain": [-1.2, 0.2], "nice": false, "zero": false}, "axis": null}}},
    {"data": {"values": [{}]}, "mark": {"type": "text", "align": "left", "baseline": "alphabetic", "fontSize": 22, "fontStyle": "italic", "color": "#222", "text": "T"},
      "encoding": {"x": {"datum": 22.65, "type": "quantitative", "scale": {"domain": [0, 50], "nice": false, "zero": false}, "axis": null}, "y": {"datum": -1.325, "type": "quantitative", "scale": {"domain": [-1.2, 0.2], "nice": false, "zero": false}, "axis": null}}},
    {"data": {"values": [{}]}, "mark": {"type": "text", "align": "left", "baseline": "alphabetic", "fontSize": 22, "color": "#222", "text": "/ K"},
      "encoding": {"x": {"datum": 24.61, "type": "quantitative", "scale": {"domain": [0, 50], "nice": false, "zero": false}, "axis": null}, "y": {"datum": -1.325, "type": "quantitative", "scale": {"domain": [-1.2, 0.2], "nice": false, "zero": false}, "axis": null}}}
  ],
  "resolve": {
    "scale": {"x": "independent", "y": "independent"},
    "axis": {"x": "independent", "y": "independent"}
  }
}
